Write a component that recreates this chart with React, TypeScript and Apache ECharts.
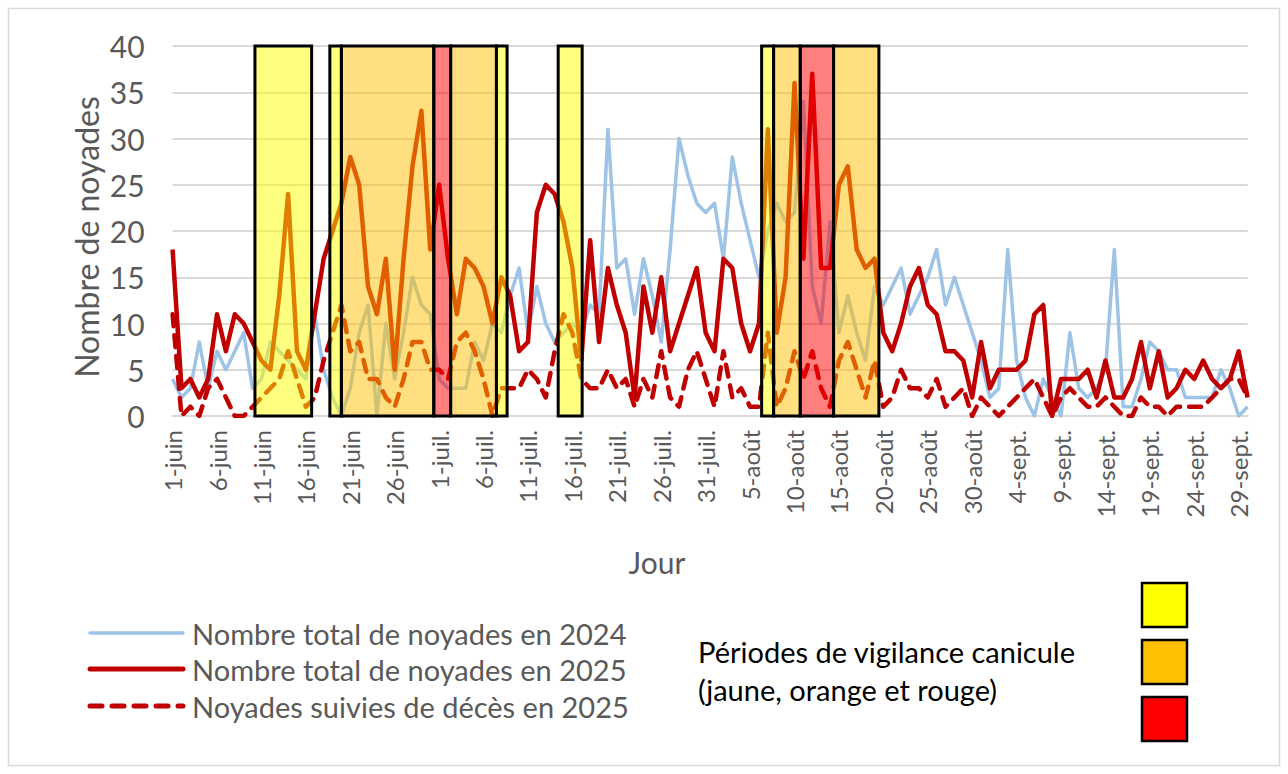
import React, { useEffect, useRef } from "react";
import * as echarts from "echarts";

// Tick labels every 5 days (index 0 = 1 juin, index 121 = 30 sept.)
const tickLabels = [
  "1-juin", "6-juin", "11-juin", "16-juin", "21-juin", "26-juin",
  "1-juil.", "6-juil.", "11-juil.", "16-juil.", "21-juil.", "26-juil.", "31-juil.",
  "5-août", "10-août", "15-août", "20-août", "25-août", "30-août",
  "4-sept.", "9-sept.", "14-sept.", "19-sept.", "24-sept.", "29-sept.",
];

const total2024 = [
  4, 2, 3, 8, 3, 7, 5, 7, 9, 3,
  4, 8, 7, 6, 5, 4, 11, 5, 2, 0,
  3, 9, 12, 0, 10, 4, 9, 15, 12, 11,
  4, 3, 3, 3, 8, 6, 10, 9, 13, 16,
  9, 14, 10, 8, 9, 10, 9, 12, 11, 31,
  16, 17, 11, 17, 13, 8, 18, 30, 26, 23,
  22, 23, 17, 28, 23, 19, 15, 20, 23, 21,
  22, 34, 14, 10, 21, 9, 13, 9, 6, 14,
  12, 14, 16, 11, 13, 15, 18, 12, 15, 12,
  9, 6, 2, 3, 18, 6, 2, 0, 4, 2,
  0, 9, 3, 2, 3, 5, 18, 1, 1, 4,
  8, 7, 5, 5, 2, 2, 2, 2, 5, 3,
  0, 1,
];

const total2025 = [
  18, 3, 4, 2, 4, 11, 7, 11, 10, 8,
  6, 5, 13, 24, 7, 5, 11, 17, 20, 23,
  28, 25, 14, 11, 17, 5, 17, 27, 33, 18,
  25, 17, 11, 17, 16, 14, 10, 15, 13, 7,
  8, 22, 25, 24, 21, 16, 6, 19, 8, 16,
  12, 9, 2, 14, 9, 15, 7, 10, 13, 16,
  9, 7, 17, 16, 10, 7, 10, 31, 9, 15,
  36, 17, 37, 16, 16, 25, 27, 18, 16, 17,
  9, 7, 10, 14, 16, 12, 11, 7, 7, 6,
  2, 8, 3, 5, 5, 5, 6, 11, 12, 0,
  4, 4, 4, 5, 2, 6, 2, 2, 4, 8,
  3, 7, 2, 3, 5, 4, 6, 4, 3, 4,
  7, 2,
];

const deaths2025 = [
  11, 0, 1, 0, 3, 4, 2, 0, 0, 1,
  2, 3, 4, 7, 4, 1, 2, 6, 9, 12,
  7, 8, 4, 4, 2, 1, 4, 8, 8, 5,
  5, 4, 8, 9, 7, 4, 0, 3, 3, 3,
  5, 4, 2, 7, 11, 9, 4, 3, 3, 5,
  3, 4, 1, 4, 2, 7, 2, 1, 5, 7,
  4, 1, 7, 2, 3, 1, 1, 9, 1, 3,
  7, 4, 7, 3, 1, 6, 8, 5, 2, 6,
  1, 2, 5, 3, 3, 2, 4, 1, 2, 3,
  0, 2, 1, 0, 1, 2, 3, 4, 2, 0,
  2, 3, 2, 1, 1, 2, 1, 0, 0, 2,
  1, 1, 0, 1, 1, 1, 1, 2, 3, 4,
  4, 2,
];

// Heat-wave vigilance periods (in day positions on the axis)
const vigStart = [9.27, 17.7, 19.0, 29.4, 31.3, 36.45, 43.4, 66.3, 67.65, 70.65, 74.4];
const vigEnd = [15.65, 19.0, 29.4, 31.3, 36.45, 37.65, 46.1, 67.65, 70.65, 74.4, 79.5];
const vigLevel = ["jaune", "jaune", "orange", "rouge", "orange", "jaune", "jaune", "jaune", "orange", "rouge", "orange"];

const seriesNames = [
  "Nombre total de noyades en 2024",
  "Nombre total de noyades en 2025",
  "Noyades suivies de décès en 2025",
];

const FONT = "Lato, 'Open Sans', sans-serif";
const GRAY = "#595959";
const BLUE = "#9DC3E6";
const RED = "#C00000";
const levelFill: Record<string, string> = {
  jaune: "rgba(255,255,0,0.5)",
  orange: "rgba(255,192,0,0.5)",
  rouge: "rgba(255,0,0,0.5)",
};
const levelSolid: Record<string, string> = {
  jaune: "#FFFF00",
  orange: "#FFC000",
  rouge: "#FF0000",
};

export default function App() {
  const ref = useRef<HTMLDivElement>(null);

  useEffect(() => {
    if (!ref.current) return;
    const chart = echarts.init(ref.current, undefined, { renderer: "svg" });
    const toPairs = (arr: number[]) => arr.map((v, i) => [i, v]);

    const areas = vigStart.map((s, i) => [
      {
        xAxis: s,
        yAxis: 40,
        itemStyle: { color: levelFill[vigLevel[i]], borderColor: "#000", borderWidth: 3 },
      },
      { xAxis: vigEnd[i], yAxis: 0 },
    ]);

    const legendY = [633, 669, 706];
    const legendStyles = [
      { stroke: BLUE, lineWidth: 3.5, lineDash: null as any },
      { stroke: RED, lineWidth: 5, lineDash: null as any },
      { stroke: RED, lineWidth: 5, lineDash: [12, 10] },
    ];

    const graphics: any[] = [
      {
        type: "rect",
        shape: { x: 8.5, y: 8.5, width: 1271, height: 757 },
        style: { fill: "none", stroke: "#D9D9D9", lineWidth: 1.5 },
        silent: true,
      },
      {
        type: "text",
        x: 86,
        y: 237,
        rotation: Math.PI / 2,
        style: {
          text: "Nombre de noyades",
          fontSize: 32,
          fontFamily: FONT,
          fill: GRAY,
          align: "center",
          verticalAlign: "middle",
        },
      },
      {
        type: "text",
        x: 657,
        y: 562,
        style: {
          text: "Jour",
          fontSize: 30,
          fontFamily: FONT,
          fill: GRAY,
          align: "center",
          verticalAlign: "middle",
        },
      },
      {
        type: "text",
        x: 698,
        y: 651,
        style: {
          text: "Périodes de vigilance canicule",
          fontSize: 29,
          fontFamily: FONT,
          fill: "#000",
          align: "left",
          verticalAlign: "middle",
        },
      },
      {
        type: "text",
        x: 698,
        y: 689,
        style: {
          text: "(jaune, orange et rouge)",
          fontSize: 29,
          fontFamily: FONT,
          fill: "#000",
          align: "left",
          verticalAlign: "middle",
        },
      },
    ];

    seriesNames.forEach((name, i) => {
      graphics.push({
        type: "line",
        shape: { x1: 90, y1: legendY[i], x2: 183, y2: legendY[i] },
        style: {
          stroke: legendStyles[i].stroke,
          lineWidth: legendStyles[i].lineWidth,
          lineDash: legendStyles[i].lineDash,
          lineCap: "round",
        },
      });
      graphics.push({
        type: "text",
        x: 192,
        y: legendY[i],
        style: {
          text: name,
          fontSize: 29,
          fontFamily: FONT,
          fill: GRAY,
          align: "left",
          verticalAlign: "middle",
        },
      });
    });

    ["jaune", "orange", "rouge"].forEach((lvl, i) => {
      graphics.push({
        type: "rect",
        shape: { x: 1142, y: 583 + i * 57, width: 45, height: 44 },
        style: { fill: levelSolid[lvl], stroke: "#000", lineWidth: 2.5 },
      });
    });

    chart.setOption({
      animation: false,
      backgroundColor: "#fff",
      grid: { left: 172.6, right: 40.4, top: 46, bottom: 358 },
      xAxis: {
        type: "value",
        min: 0,
        max: 121,
        interval: 5,
        axisLine: { show: true, lineStyle: { color: "#D9D9D9", width: 2 } },
        axisTick: { show: false },
        splitLine: { show: false },
        axisLabel: {
          rotate: 90,
          margin: 14,
          fontSize: 24,
          fontFamily: FONT,
          color: GRAY,
          showMaxLabel: false,
          formatter: (v: number) => (v % 5 === 0 && v / 5 < tickLabels.length ? tickLabels[v / 5] : ""),
        },
      },
      yAxis: {
        type: "value",
        min: 0,
        max: 40,
        interval: 5,
        axisLine: { show: false },
        axisTick: { show: false },
        splitLine: { lineStyle: { color: "#D9D9D9", width: 2 } },
        axisLabel: { fontSize: 30, fontFamily: FONT, color: GRAY, margin: 28 },
      },
      graphic: graphics,
      series: [
        {
          name: seriesNames[0],
          type: "line",
          data: toPairs(total2024),
          symbol: "none",
          z: 2,
          lineStyle: { color: BLUE, width: 3.5, join: "round" },
        },
        {
          name: seriesNames[1],
          type: "line",
          data: toPairs(total2025),
          symbol: "none",
          z: 3,
          lineStyle: { color: RED, width: 4.5, join: "round" },
        },
        {
          name: seriesNames[2],
          type: "line",
          data: toPairs(deaths2025),
          symbol: "none",
          z: 4,
          lineStyle: { color: RED, width: 4.5, type: [12, 9], cap: "round", join: "round" },
        },
        {
          name: "Vigilance",
          type: "line",
          data: [],
          z: 6,
          silent: true,
          markArea: { silent: true, z: 6, data: areas },
        },
      ],
    });

    return () => chart.dispose();
  }, []);

  return (
    <div
      ref={ref}
      style={{ position: "fixed", left: 0, top: 0, width: 1288, height: 774 }}
    />
  );
}
